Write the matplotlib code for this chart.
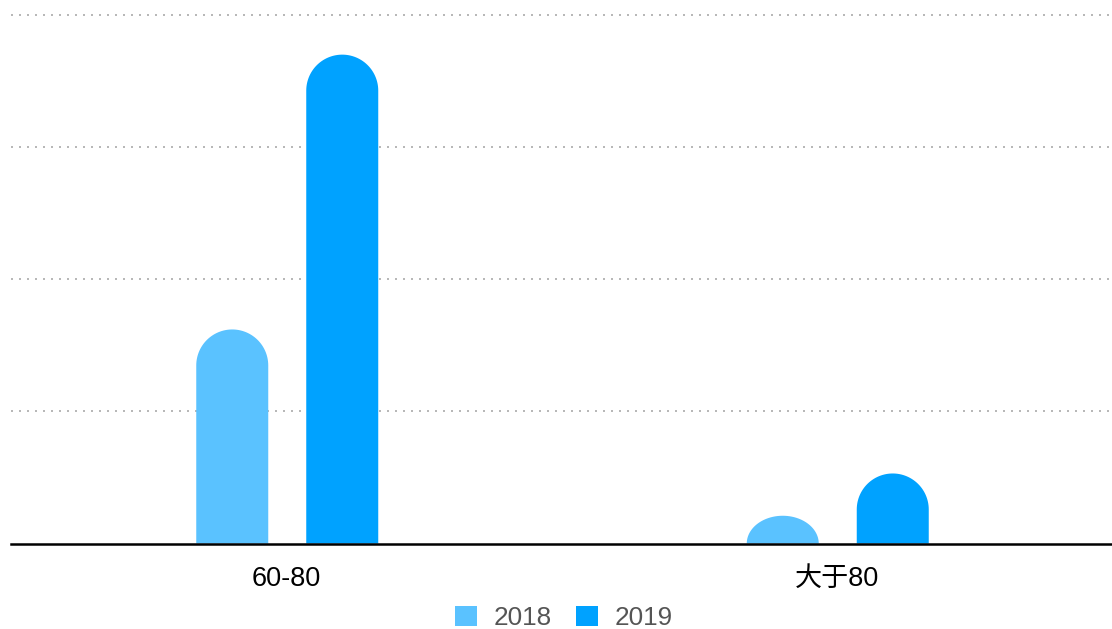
import numpy as np
import matplotlib.pyplot as plt
from matplotlib.patches import Polygon, Patch

plt.rcParams['font.family'] = ['Liberation Sans', 'Noto Sans CJK SC', 'DejaVu Sans']

# data
categories = ['60-80', '大于80']
series_names = ['2018', '2019']
values_2018 = [16.2, 2.1]
values_2019 = [37.0, 5.3]
colors = ['#5AC2FF', '#00A2FF']
y_max = 40
grid_step = 10

W, H = 1112, 629
fig = plt.figure(figsize=(W / 100, H / 100), dpi=100)
ax_left, ax_right, ax_top, ax_bottom = 11, 1112, 15, 543.5
ax = fig.add_axes([ax_left / W, (H - ax_bottom) / H,
                   (ax_right - ax_left) / W, (ax_bottom - ax_top) / H])
ax.set_xlim(-0.5, len(categories) - 0.5)
ax.set_ylim(0, y_max)

# pixel scales for rounded tops
px_per_x = (ax_right - ax_left) / len(categories)
px_per_y = (ax_bottom - ax_top) / y_max

bar_w = 72 / px_per_x
shift = 1 / px_per_x
offset = 55 / px_per_x


def rounded_bar(ax, xc, h, width, color):
    """Bar with a rounded top; a short bar gets a flattened dome."""
    w_px = width * px_per_x
    h_px = h * px_per_y
    rx = width / 2
    ry = min(w_px / 2, h_px) / px_per_y
    x0, x1 = xc - width / 2, xc + width / 2
    cy = h - ry
    pts = [(x0, 0)]
    for a in np.linspace(np.pi, 0, 60):
        pts.append((xc + rx * np.cos(a), cy + ry * np.sin(a)))
    pts.append((x1, 0))
    ax.add_patch(Polygon(pts, closed=True, facecolor=color, edgecolor='none', zorder=3))


for i, cat in enumerate(categories):
    rounded_bar(ax, i + shift - offset, values_2018[i], bar_w, colors[0])
    rounded_bar(ax, i + shift + offset, values_2019[i], bar_w, colors[1])

# grid lines
for gy in np.arange(grid_step, y_max + grid_step, grid_step):
    ax.axhline(gy, color='#b8b8b8', lw=1.44, linestyle=(0, (1, 3)), clip_on=False, zorder=1)
ax.axhline(0, color='black', lw=1.8, clip_on=False, zorder=4)

for s in ax.spines.values():
    s.set_visible(False)
ax.set_yticks([])
ax.set_xticks(range(len(categories)))
ax.set_xticklabels(categories, fontsize=19.5, color='black')
ax.tick_params(axis='x', length=0, pad=16)

handles = [Patch(facecolor=c, edgecolor='none') for c in colors]
fig.legend(handles, series_names, loc='center', bbox_to_anchor=(564 / W, 1 - 618 / H),
           ncol=2, frameon=False, fontsize=18.8, labelcolor='#555555',
           handlelength=0.84, handleheight=0.84, handletextpad=0.64,
           columnspacing=0.92, borderpad=0, borderaxespad=0)

fig.savefig('out.png', dpi=100)
